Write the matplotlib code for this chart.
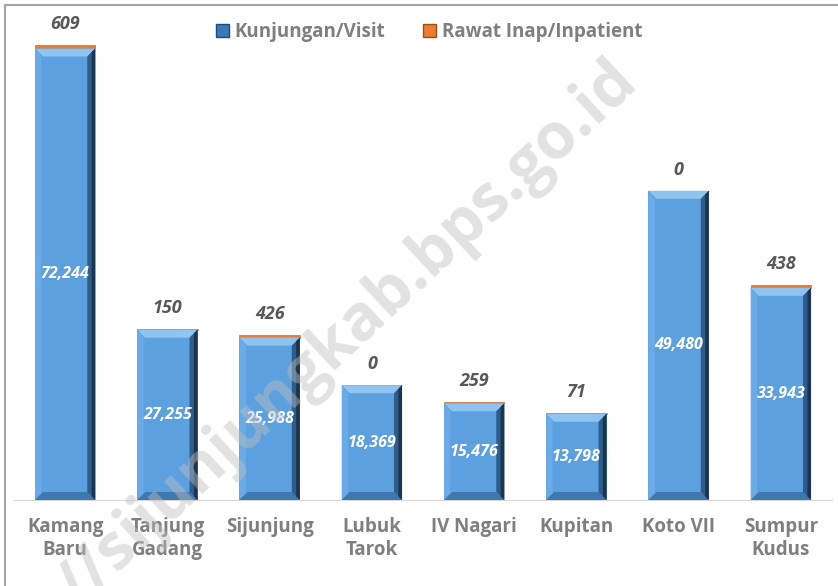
import numpy as np
import matplotlib
matplotlib.use("Agg")
import matplotlib.pyplot as plt
from matplotlib.patches import Polygon, Patch
from matplotlib.lines import Line2D

plt.rcParams['font.family'] = ['Open Sans', 'DejaVu Sans']

kecamatan = ["Kamang\nBaru", "Tanjung\nGadang", "Sijunjung", "Lubuk\nTarok",
             "IV Nagari", "Kupitan", "Koto VII", "Sumpur\nKudus"]
kunjungan = [72244, 27255, 25988, 18369, 15476, 13798, 49480, 33943]
rawat_inap = [609, 150, 426, 0, 259, 71, 0, 438]

W, H = 838, 586
fig = plt.figure(figsize=(W / 100, H / 100), dpi=100)
ax = fig.add_axes([14 / W, (H - 500) / H, 818 / W, 485 / H])

x = np.arange(len(kecamatan))
kunj = np.array(kunjungan)
rawat = np.array(rawat_inap)
total = kunj + rawat
bw = 0.59

blue = '#5DA0E0'
orange = '#ED7D31'
ax.bar(x, kunj, bw, color=blue, zorder=2)
ax.bar(x, rawat, bw, bottom=kunj, color=orange, edgecolor='#B85A1C', lw=0.4, zorder=2)

ax.set_xlim(-0.5, len(kecamatan) - 0.5)
ax.set_ylim(0, 77600)

# bevel effect, sizes in pixels converted to data units
px_x = 1 / (818 / len(kecamatan))
px_y = 77600 / 485
bx, by = 8 * px_x, 8 * px_y
for xi, h in zip(x, kunj):
    l, r = xi - bw / 2, xi + bw / 2
    ax.add_patch(Polygon([(l, h), (r, h), (r - bx, h - by), (l + bx, h - by)],
                         closed=True, color='#8FC4F0', lw=0, zorder=3))
    ax.add_patch(Polygon([(l, 0), (l + bx * 0.8, by * 0.8), (l + bx * 0.8, h - by), (l, h)],
                         closed=True, color='#6AAAE6', lw=0, zorder=3))
    ax.add_patch(Polygon([(l, 0), (r, 0), (r - bx, by), (l + bx, by)],
                         closed=True, color='#3F77AE', lw=0, zorder=3))
    ax.add_patch(Polygon([(r, 0), (r, h), (r - bx, h - by), (r - bx, by)],
                         closed=True, color='#2F5C88', lw=0, zorder=3))
    ax.add_patch(Polygon([(r, 0), (r, h), (r - bx * 0.45, h - by * 0.45), (r - bx * 0.45, by * 0.45)],
                         closed=True, color='#1B3550', lw=0, zorder=3))

for xi, k, t, rv in zip(x, kunj, total, rawat):
    ax.text(xi, k / 2, f"{k:,}", ha='center', va='center', color='white',
            fontsize=11.5, fontweight='bold', fontstyle='italic', zorder=5)
    ax.text(xi, t + 12 * px_y, f"{rv:,}", ha='center', va='bottom', color='#595959',
            fontsize=13, fontweight='bold', fontstyle='italic', zorder=5)

ax.set_xticks(x)
ax.set_xticklabels(kecamatan, fontsize=13.5, fontweight='bold', color='#7F7F7F',
                   linespacing=1.2)
ax.tick_params(axis='x', length=0, pad=12)
ax.set_yticks([])
for s in ['top', 'right', 'left']:
    ax.spines[s].set_visible(False)
ax.spines['bottom'].set_color('#D9D9D9')
ax.spines['bottom'].set_zorder(1)

handles = [Patch(facecolor='#3A78B8', edgecolor='#1F4A78', label='Kunjungan/Visit'),
           Patch(facecolor=orange, edgecolor='#A04E18', label='Rawat Inap/Inpatient')]
leg = fig.legend(handles=handles, loc='center', bbox_to_anchor=(429 / W, 1 - 32 / H),
                 ncol=2, frameon=False, handlelength=0.7, handleheight=0.7,
                 handletextpad=0.3, columnspacing=2.0,
                 prop={'size': 13.5, 'weight': 'bold'})
for t in leg.get_texts():
    t.set_color('#7F7F7F')

# watermark
fig.text(348 / W, 1 - 335 / H, "//sijunjungkab.bps.go.id", fontsize=46,
         fontweight='bold', color='#BFBFBF', alpha=0.45, rotation=43,
         rotation_mode='anchor', ha='center', va='center', zorder=10)

# outer frame
fig.add_artist(Line2D([5 / W, 5 / W], [0, 1 - 5 / H], color='#A6A6A6', lw=1.5))
fig.add_artist(Line2D([5 / W, 1], [1 - 5 / H, 1 - 5 / H], color='#A6A6A6', lw=1.5))

fig.savefig("out.png", dpi=100)
